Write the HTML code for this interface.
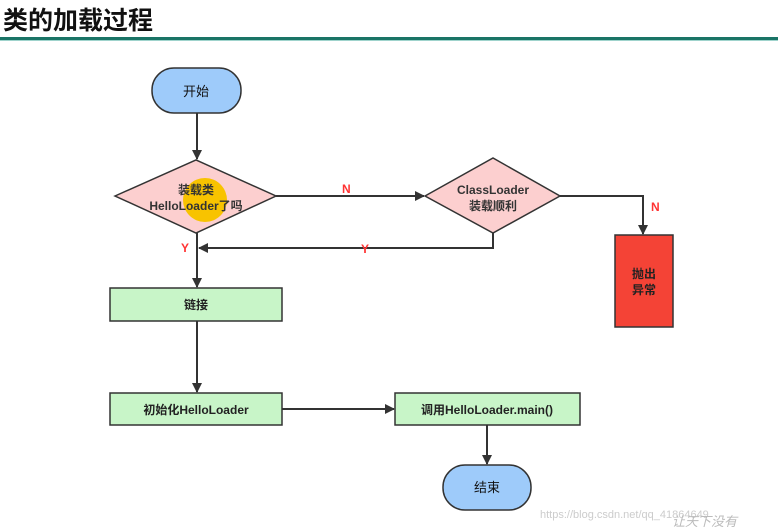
<!DOCTYPE html><html><head><meta charset="utf-8"><style>body{margin:0;background:#fff}svg{display:block}text{font-family:"Liberation Sans","Noto Sans CJK SC",sans-serif}</style></head><body>
<svg width="778" height="530" viewBox="0 0 778 530">
<defs><marker id="a" markerWidth="10" markerHeight="10" refX="9" refY="5" orient="auto" markerUnits="userSpaceOnUse"><path d="M0,0 L10,5 L0,10 z" fill="#333"/></marker></defs>
<text x="3" y="29" font-size="25" font-weight="bold" fill="#111">类的加载过程</text>
<rect x="0" y="37" width="778" height="3" fill="#1a7466"/>
<rect x="0" y="40" width="778" height="1" fill="#9fd3cc"/>
<g stroke="#333" stroke-width="2" fill="none">
<line x1="197" y1="113" x2="197" y2="159" marker-end="url(#a)"/>
<line x1="276" y1="196" x2="424" y2="196" marker-end="url(#a)"/>
<polyline points="560,196 643,196 643,234" marker-end="url(#a)"/>
<polyline points="493,233 493,248 199,248" marker-end="url(#a)"/>
<line x1="197" y1="233" x2="197" y2="287" marker-end="url(#a)"/>
<line x1="197" y1="321" x2="197" y2="392" marker-end="url(#a)"/>
<line x1="282" y1="409" x2="394" y2="409" marker-end="url(#a)"/>
<line x1="487" y1="425" x2="487" y2="464" marker-end="url(#a)"/>
</g>
<rect x="152" y="68" width="89" height="45" rx="22" fill="#9ecbfa" stroke="#333" stroke-width="1.5"/>
<text x="196" y="96" font-size="13" text-anchor="middle" fill="#111">开始</text>
<polygon points="115,196 196,160 276,196 196,233" fill="#fccfcf" stroke="#333" stroke-width="1.5"/>
<circle cx="205" cy="200" r="22" fill="#f8c300"/>
<text x="196" y="194" font-size="12" font-weight="bold" text-anchor="middle" fill="#333">装载类</text>
<text x="196" y="210" font-size="12" font-weight="bold" text-anchor="middle" fill="#333">HelloLoader了吗</text>
<polygon points="425,196 493,158 560,196 493,233" fill="#fccfcf" stroke="#333" stroke-width="1.5"/>
<text x="493" y="194" font-size="12" font-weight="bold" text-anchor="middle" fill="#333">ClassLoader</text>
<text x="493" y="210" font-size="12" font-weight="bold" text-anchor="middle" fill="#333">装载顺利</text>
<rect x="615" y="235" width="58" height="92" fill="#f44336" stroke="#333" stroke-width="1.5"/>
<text x="644" y="278" font-size="12" font-weight="bold" text-anchor="middle" fill="#222">抛出</text>
<text x="644" y="294" font-size="12" font-weight="bold" text-anchor="middle" fill="#222">异常</text>
<rect x="110" y="288" width="172" height="33" fill="#c8f5c8" stroke="#333" stroke-width="1.5"/>
<text x="196" y="309" font-size="12" font-weight="bold" text-anchor="middle" fill="#222">链接</text>
<rect x="110" y="393" width="172" height="32" fill="#c8f5c8" stroke="#333" stroke-width="1.5"/>
<text x="196" y="414" font-size="12" font-weight="bold" text-anchor="middle" fill="#222">初始化HelloLoader</text>
<rect x="395" y="393" width="185" height="32" fill="#c8f5c8" stroke="#333" stroke-width="1.5"/>
<text x="487" y="414" font-size="12" font-weight="bold" text-anchor="middle" fill="#222">调用HelloLoader.main()</text>
<rect x="443" y="465" width="88" height="45" rx="22" fill="#9ecbfa" stroke="#333" stroke-width="1.5"/>
<text x="487" y="492" font-size="13" text-anchor="middle" fill="#111">结束</text>
<g font-size="12" font-weight="bold" fill="#f33">
<text x="342" y="193">N</text><text x="651" y="211">N</text>
<text x="181" y="252">Y</text><text x="361" y="253">Y</text>
</g>
<text x="540" y="518" font-size="11" fill="#ccc">https://blog.csdn.net/qq_41864649</text>
<text x="672" y="526" font-size="13" fill="#bbb" font-style="italic">让天下没有</text>
</svg></body></html>
